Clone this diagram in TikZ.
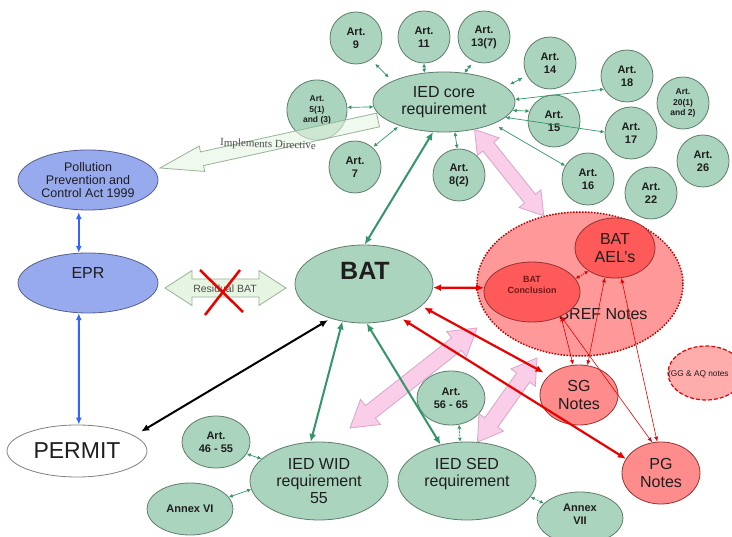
\documentclass[tikz,border=0pt]{standalone}
\usepackage{fontspec}
\setmainfont{Liberation Sans}
\newfontfamily\serifface{Liberation Serif}
\usetikzlibrary{shapes.geometric,arrows.meta,calc}

\definecolor{gfill}{RGB}{170,212,190}
\definecolor{gdraw}{RGB}{95,125,108}
\definecolor{garr}{RGB}{50,150,105}
\definecolor{bfill}{RGB}{152,170,238}
\definecolor{bdraw}{RGB}{85,95,140}
\definecolor{barr}{RGB}{50,100,255}
\definecolor{breffill}{RGB}{255,153,153}
\definecolor{brefdraw}{RGB}{190,0,0}
\definecolor{aelfill}{RGB}{255,90,90}
\definecolor{aeldraw}{RGB}{150,50,50}
\definecolor{notefill}{RGB}{255,140,140}
\definecolor{ggfill}{RGB}{255,172,172}
\definecolor{pinkfill}{RGB}{250,205,232}
\definecolor{pinkdraw}{RGB}{215,165,200}
\definecolor{lgfill}{RGB}{230,245,226}
\definecolor{lgdraw}{RGB}{150,180,150}
\definecolor{txt}{RGB}{30,30,30}
\definecolor{rline}{RGB}{235,0,0}
\definecolor{concltxt}{RGB}{110,25,25}

% double block arrow: style, end A, end B, head length, head half width, shaft half width
\newcommand\dblock[6]{%
 \path[#1] (#2) -- ($(#2)!#4!(#3)!#5!90:(#3)$) -- ($(#2)!#4!(#3)!#6!90:(#3)$)
  -- ($(#3)!#4!(#2)!#6!-90:(#2)$) -- ($(#3)!#4!(#2)!#5!-90:(#2)$) -- (#3)
  -- ($(#3)!#4!(#2)!#5!90:(#2)$) -- ($(#3)!#4!(#2)!#6!90:(#2)$)
  -- ($(#2)!#4!(#3)!#6!-90:(#3)$) -- ($(#2)!#4!(#3)!#5!-90:(#3)$) -- cycle;}
% single block arrow: style, tail, tip, head length, head half width, shaft half width
\newcommand\sblock[6]{%
 \path[#1] ($(#2)!#6!90:(#3)$) -- ($(#3)!#4!(#2)!#6!-90:(#2)$) -- ($(#3)!#4!(#2)!#5!-90:(#2)$)
  -- (#3) -- ($(#3)!#4!(#2)!#5!90:(#2)$) -- ($(#3)!#4!(#2)!#6!90:(#2)$)
  -- ($(#2)!#6!-90:(#3)$) -- cycle;}

\tikzset{
 art/.style={circle, draw=gdraw, fill=gfill, minimum size=52pt, inner sep=0pt, line width=0.8pt,
   font=\fontsize{11}{13}\selectfont\bfseries, text=txt, align=center},
 gell/.style={ellipse, draw=gdraw, fill=gfill, inner sep=0pt, line width=0.8pt, text=txt, align=center},
 bell/.style={ellipse, draw=bdraw, fill=bfill, inner sep=0pt, line width=0.8pt, text=txt, align=center,
   minimum width=140pt, minimum height=60pt},
 rell/.style={ellipse, draw=aeldraw, fill=notefill, inner sep=0pt, line width=0.8pt, text=txt, align=center,
   font=\fontsize{16}{18}\selectfont},
 lbl/.style={align=center, text=txt, inner sep=0pt},
 garrow/.style={<->, >={Latex[length=4pt,width=4pt]}, draw=garr, line width=0.7pt},
 gthick/.style={<->, >={Latex[length=8pt,width=7pt]}, draw=garr, line width=2pt},
 rthick/.style={<->, >={Latex[length=8pt,width=7pt]}, draw=rline, line width=2.2pt},
 rthin/.style={<->, >={Latex[length=5pt,width=4pt]}, draw=rline, line width=0.6pt},
 rdot/.style={<->, >={Latex[length=4pt,width=4pt]}, draw=rline, line width=0.8pt, dash pattern=on 1.5pt off 1pt},
 bthick/.style={<->, >={Latex[length=7pt,width=6pt]}, draw=barr, line width=2pt},
 kthick/.style={<->, >={Latex[length=8pt,width=7pt]}, draw=black, line width=2pt},
 pinkarrow/.style={fill=pinkfill, draw=pinkdraw, line width=0.8pt},
 lgarrow/.style={fill=lgfill, draw=lgdraw, line width=0.8pt},
}

\begin{document}
\begin{tikzpicture}[x=1pt,y=-1pt]
\fill[white] (0,0) rectangle (732,537);
\useasboundingbox (0,0) rectangle (732,537);

% ---------- green: IED core and articles ----------
\node[gell, minimum width=142pt, minimum height=60pt, font=\fontsize{16}{17}\selectfont] (core) at (444,102) {IED core\\requirement};
\node[art] (art9) at (356,38) {Art.\\9};
\node[art] (art11) at (424,37) {Art.\\11};
\node[art] (art13) at (484,37) {Art.\\13(7)};
\node[art, minimum size=60pt, font=\fontsize{8.5}{10.5}\selectfont\bfseries] (art5) at (317,110) {Art.\\5(1)\\and (3)};
\node[art] (art7) at (355,167) {Art.\\7};
\node[art] (art8) at (459,175) {Art.\\8(2)};
\node[art] (art14) at (550,63) {Art.\\14};
\node[art] (art18) at (627,76) {Art.\\18};
\node[art, font=\fontsize{8.5}{10.5}\selectfont\bfseries] (art20) at (683,103) {Art.\\20(1)\\and 2)};
\node[art] (art15) at (554,121) {Art.\\15};
\node[art] (art17) at (631,133) {Art.\\17};
\node[art] (art26) at (703,161) {Art.\\26};
\node[art] (art16) at (588,179) {Art.\\16};
\node[art] (art22) at (651,193) {Art.\\22};

% ---------- blue / permit ----------
\node[bell, font=\fontsize{12.5}{13.3}\selectfont] (ppc) at (88,180) {Pollution\\Prevention and\\Control Act 1999};
\node[bell] (epr) at (88,283) {};
\node[lbl, font=\fontsize{16}{18}\selectfont] (eprT) at (88,273) {EPR};
\node[ellipse, draw=gray, fill=white, line width=0.8pt, inner sep=0pt, minimum width=140pt, minimum height=52pt,
  font=\fontsize{23}{25}\selectfont, text=txt] (permit) at (77,451) {PERMIT};

% ---------- BAT, WID, SED ----------
\node[gell, minimum width=138pt, minimum height=78pt] (bat) at (364,284) {};
\node[lbl, font=\fontsize{25}{25}\selectfont\bfseries] (batT) at (365,271) {BAT};
\node[gell, minimum width=138pt, minimum height=78pt, font=\fontsize{16}{17}\selectfont] (wid) at (319,481) {IED WID\\requirement\\55};
\node[gell, minimum width=138pt, minimum height=78pt] (sed) at (467,481) {};
\node[lbl, font=\fontsize{16}{17}\selectfont] (sedT) at (467,474) {IED SED\\requirement};
\node[gell, minimum width=68pt, minimum height=52pt, font=\fontsize{11}{13}\selectfont\bfseries] (art46) at (216,442) {Art.\\46 - 55};
\node[gell, minimum width=86pt, minimum height=52pt, font=\fontsize{11}{13}\selectfont\bfseries] (annex6) at (190,509) {Annex VI};
\node[gell, minimum width=68pt, minimum height=54pt, font=\fontsize{11}{13}\selectfont\bfseries] (art56) at (451,398) {Art.\\56 - 65};
\node[gell, minimum width=86pt, minimum height=52pt] (annex7) at (580,518) {};
\node[lbl, font=\fontsize{11}{13}\selectfont\bfseries] (annex7T) at (580,514) {Annex\\VII};

% ---------- red: BREF and notes ----------
\node[ellipse, fill=breffill, draw=brefdraw, line width=1.5pt, dash pattern=on 1.5pt off 1.5pt,
  minimum width=206pt, minimum height=144pt, inner sep=0pt] (bref) at (580,284) {};
\node[lbl, font=\fontsize{16}{18}\selectfont] (brefT) at (603,314) {BREF Notes};
\node[rell, fill=aelfill, minimum width=80pt, minimum height=60pt] (ael) at (615,248) {BAT\\AEL’s};
\node[rell, fill=aelfill, minimum width=96pt, minimum height=60pt] (concl) at (532,292) {};
\node[lbl, font=\fontsize{9}{11}\selectfont\bfseries, text=concltxt] (conclT) at (532,285) {BAT\\Conclusion};
\node[rell, minimum width=78pt, minimum height=60pt] (sg) at (579,395) {SG\\Notes};
\node[rell, minimum width=78pt, minimum height=62pt] (pg) at (661,473) {PG\\Notes};
\node[ellipse, fill=ggfill, draw=rline, line width=1.2pt, dash pattern=on 4pt off 2pt,
  minimum width=76pt, minimum height=54pt, inner sep=0pt] (gg) at (706,373) {};
\node[lbl, font=\fontsize{8.3}{10}\selectfont, anchor=west] (ggT) at (668,374) {(GG \& AQ notes};

% ---------- block arrows ----------
\coordinate (impA) at (378,120);
\coordinate (impB) at (160,168);
\sblock{lgarrow, fill opacity=0.6}{impA}{impB}{43pt}{13pt}{7pt}
\node[lbl, font=\serifface\fontsize{11}{13}\selectfont, text=black!70, rotate=-2] (impT) at (268,145) {Implements Directive};

\coordinate (resA) at (165,288);
\coordinate (resB) at (286,288);
\dblock{lgarrow}{resA}{resB}{27pt}{17.5pt}{9pt}
\node[lbl, font=\fontsize{10.5}{12}\selectfont, text=black!70] (resT) at (225,289) {Residual BAT};
\draw[rline, line width=2.5pt] (200,270) -- (243,312) (240,270) -- (205,315);

\dblock{pinkarrow}{core.-42}{bref.118}{22pt}{14pt}{7pt}
\coordinate (p2a) at (350,428);
\coordinate (p2b) at (477,328);
\dblock{pinkarrow}{p2a}{p2b}{26pt}{16pt}{8pt}
\coordinate (p3b) at (537,358);
\dblock{pinkarrow}{sed.75}{p3b}{24pt}{15pt}{8pt}

% ---------- connectors ----------
\draw[garrow, shorten <=6pt, shorten >=5pt] (art9.-55) -- (core.158);
\draw[garrow] (art11.-90) -- (core.124);
\draw[garrow, shorten <=4pt] (art13.-113) -- (core.55);
\draw[garrow, shorten <=5pt, shorten >=5pt] (core.14) -- (art14.-151);
\draw[garrow] (art5.5) -- (core.184);
\draw[garrow, shorten <=1pt, shorten >=2pt] (art7.48) -- (core.208);
\draw[garrow] (core.-70) -- (art8.94);
\draw[garrow] (core.-7) -- (art15.158);
\draw[garrow] (core.2) -- (art18.-150);
\draw[garrow] (core.-14) -- (art17.178);
\draw[garrow, shorten <=6pt] (core.-24) -- (art16.150);

\draw[gthick] (core.-110) -- (bat.89);
\draw[gthick] (bat.-120) -- (wid.102);
\draw[gthick] (bat.-86) -- (sed.126);
\draw[kthick, shorten <=3pt, shorten >=8pt] (bat.-134) -- (permit.15);
\draw[bthick, shorten <=2pt] (ppc.-107) -- (epr.107);
\draw[bthick] (epr.-107) -- (permit.86);

\draw[rthick] (bat.-3) -- (concl.175);
\draw[rthick, shorten <=3pt, shorten >=6pt] (bat.-21) -- (sg.147);
\draw[rthick, shorten <=3pt] (bat.-43) -- (pg.158);
\draw[rthin] (concl.-40) -- (sg.101);
\draw[rthin] (concl.-40) -- (pg.106);
\draw[rthin] (ael.-109) -- (sg.74);
\draw[rthin] (ael.-78) -- (pg.97);
\draw[rdot] (concl.17) -- (ael.-139);

\draw[garrow] (art46.-21) -- (wid.159);
\draw[garrow] (annex6.17) -- (wid.187);
\draw[garrow, dash pattern=on 2pt off 1pt] (art56.-73) -- (sed.100);
\draw[garrow, dash pattern=on 2pt off 1pt] (sed.-14) -- (annex7.158);
\end{tikzpicture}
\end{document}
